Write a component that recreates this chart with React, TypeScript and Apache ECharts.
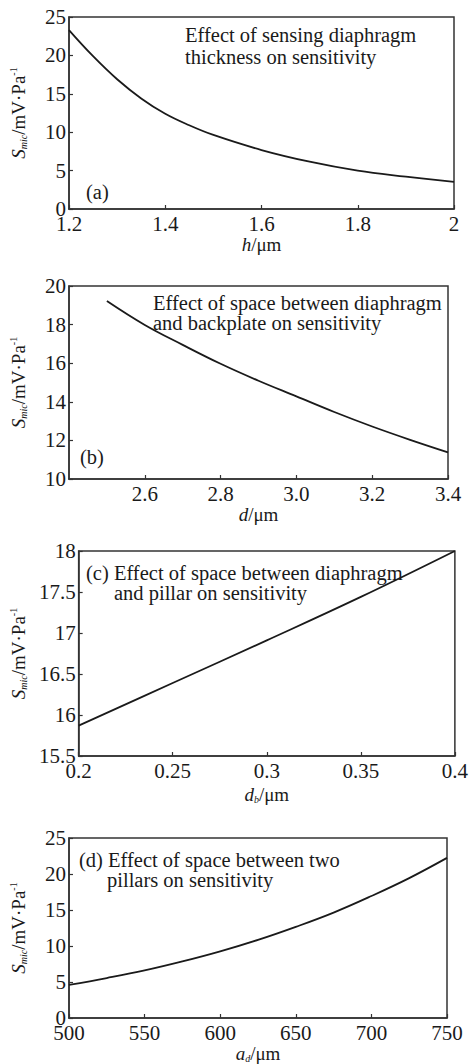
import React, { useEffect, useRef } from "react";
import * as echarts from "echarts";

// Panel (a): sensing diaphragm thickness h (µm) vs sensitivity
const hValues = [1.2, 1.25, 1.3, 1.35, 1.4, 1.45, 1.5, 1.6, 1.7, 1.8, 1.9, 2.0];
const sensA = [23.3, 19.9, 16.9, 14.4, 12.4, 10.9, 9.64, 7.68, 6.16, 4.99, 4.21, 3.52];

// Panel (b): space between diaphragm and backplate d (µm)
const dValues = [2.5, 2.6, 2.7, 2.8, 2.9, 3.0, 3.1, 3.2, 3.3, 3.4];
const sensB = [19.22, 17.98, 16.95, 15.97, 15.09, 14.28, 13.47, 12.72, 12.03, 11.38];

// Panel (c): space between diaphragm and pillar d_b (µm)
const dbValues = [0.2, 0.25, 0.3, 0.35, 0.4];
const sensC = [15.87, 16.39, 16.91, 17.44, 18.0];

// Panel (d): space between two pillars a_d (µm)
const adValues = [500, 525, 550, 575, 600, 625, 650, 675, 700, 725, 750];
const sensD = [4.6, 5.55, 6.6, 7.85, 9.25, 10.85, 12.66, 14.64, 16.94, 19.43, 22.24];

const annotA = ["Effect of sensing diaphragm", "thickness on sensitivity"];
const annotB = ["Effect of space between diaphragm", "and backplate on sensitivity"];
const annotC = ["(c) Effect of space between diaphragm", "and pillar on sensitivity"];
const annotD = ["(d) Effect of space between two", "pillars on sensitivity"];

const FONT = "Liberation Serif";
const AX = "#333";
const TXT = "#1a1a1a";

const grids = [
  { left: 69, top: 17, width: 385, height: 192 },
  { left: 66, top: 286, width: 382, height: 193 },
  { left: 75, top: 551, width: 381, height: 205 },
  { left: 66, top: 838, width: 381, height: 181 },
];

const yRich = {
  s: { fontFamily: FONT, fontStyle: "italic", fontSize: 19, color: TXT },
  sub: { fontFamily: FONT, fontStyle: "italic", fontSize: 10, color: TXT, padding: [9, 0, 0, 0] },
  n: { fontFamily: FONT, fontSize: 19, color: TXT },
  sup: { fontFamily: FONT, fontSize: 10, color: TXT, padding: [0, 0, 11, 0] },
};
const xRich = {
  i: { fontFamily: FONT, fontStyle: "italic", fontSize: 19, color: TXT },
  sub: { fontFamily: FONT, fontStyle: "italic", fontSize: 10, color: TXT, padding: [9, 0, 0, 0] },
  n: { fontFamily: FONT, fontSize: 19, color: TXT },
};

function App() {
  const ref = useRef<HTMLDivElement>(null);
  useEffect(() => {
    if (!ref.current) return;
    const chart = echarts.init(ref.current, undefined, { renderer: "svg" });
    const axisCommon = {
      axisLine: { show: true, lineStyle: { color: AX, width: 1.5 } },
      axisTick: { show: true, inside: true, length: 4, lineStyle: { color: AX, width: 1.2 } },
      splitLine: { show: false },
      axisLabel: { fontFamily: FONT, fontSize: 21, color: TXT, margin: 4 },
    };
    const xNames = ["{i|h}{n|/μm}", "{i|d}{n|/μm}", "{i|d}{sub|b}{n|/μm}", "{i|a}{sub|d}{n|/μm}"];
    const xGaps = [22, 20, 29, 26];
    const xCfg = [
      { min: 1.2, max: 2, interval: 0.2, fmt: (v: number) => String(parseFloat(v.toFixed(2))) },
      { min: 2.4, max: 3.4, interval: 0.2, fmt: (v: number) => v.toFixed(1), hideMin: true },
      { min: 0.2, max: 0.4, interval: 0.05, fmt: (v: number) => String(parseFloat(v.toFixed(2))) },
      { min: 500, max: 750, interval: 50, fmt: (v: number) => String(Math.round(v)) },
    ];
    const yCfg = [
      { min: 0, max: 25, interval: 5 },
      { min: 10, max: 20, interval: 2 },
      { min: 15.5, max: 18, interval: 0.5 },
      { min: 0, max: 25, interval: 5 },
    ];
    const xs = [hValues, dValues, dbValues, adValues];
    const ys = [sensA, sensB, sensC, sensD];

    const xAxis = xCfg.map((c, i) => ({
      type: "value",
      gridIndex: i,
      min: c.min,
      max: c.max,
      interval: c.interval,
      ...axisCommon,
      axisLabel: {
        ...axisCommon.axisLabel,
        formatter: c.fmt,
        showMinLabel: !c.hideMin,
        margin: 4,
      },
      name: xNames[i],
      nameLocation: "middle",
      nameGap: xGaps[i],
      nameTextStyle: { rich: xRich, verticalAlign: "top" },
    }));
    const yAxis = yCfg.map((c, i) => ({
      type: "value",
      gridIndex: i,
      min: c.min,
      max: c.max,
      interval: c.interval,
      ...axisCommon,
      axisLabel: { ...axisCommon.axisLabel, margin: 3, formatter: (v: number) => String(parseFloat(v.toFixed(2))) },
      name: "{s|S}{sub|mic}{n|/mV·Pa}{sup|-1}",
      nameLocation: "middle",
      nameRotate: 90,
      nameGap: 40,
      nameTextStyle: { rich: yRich },
    }));
    const series = xs.map((xv, i) => ({
      type: "line",
      xAxisIndex: i,
      yAxisIndex: i,
      data: xv.map((x, j) => [x, ys[i][j]]),
      smooth: 0.4,
      showSymbol: false,
      lineStyle: { color: "#1a1a1a", width: 1.8 },
    }));

    const textStyle = { fontFamily: FONT, fontSize: 20.5, fill: TXT };
    const mk = (x: number, y: number, t: string) => ({ type: "text", x, y, style: { ...textStyle, text: t } });
    const graphic = [
      mk(185, 24, annotA[0]), mk(185, 46, annotA[1]),
      mk(86, 181, "(a)"),
      mk(153, 292, annotB[0]), mk(153, 312, annotB[1]),
      mk(80, 446, "(b)"),
      mk(86, 562, annotC[0]), mk(114, 582, annotC[1]),
      mk(79, 849, annotD[0]), mk(107, 869, annotD[1]),
    ];

    chart.setOption({
      animation: false,
      backgroundColor: "#fff",
      grid: grids.map((g) => ({ ...g, show: true, borderColor: AX, borderWidth: 1.5, backgroundColor: "transparent" })),
      xAxis,
      yAxis,
      series,
      graphic,
    });
    return () => chart.dispose();
  }, []);
  return <div ref={ref} style={{ position: "absolute", left: 0, top: 0, width: 471, height: 1064 }} />;
}

export default App;
